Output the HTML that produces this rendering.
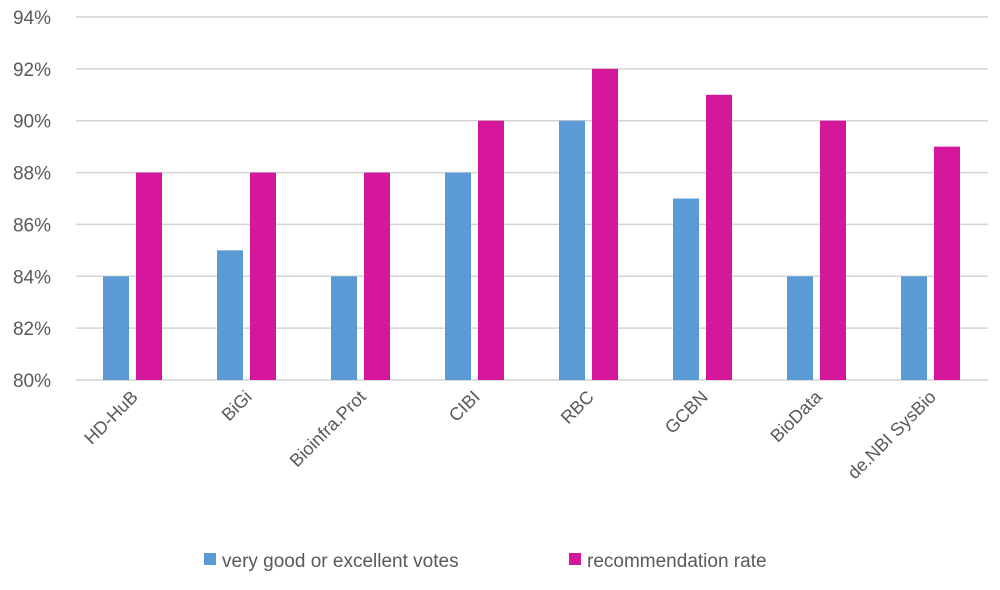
<!DOCTYPE html>
<html><head><meta charset="utf-8"><style>
body{margin:0;background:#fff}
text{font-family:"Liberation Sans",sans-serif;fill:#595959}
</style></head><body>
<svg id="c" width="1000" height="585"></svg>
<script>
const categories=["HD-HuB","BiGi","Bioinfra.Prot","CIBI","RBC","GCBN","BioData","de.NBI SysBio"];
const votes=[84,85,84,88,90,87,84,84];
const recommendation=[88,88,88,90,92,91,90,89];
const yTicks=[80,82,84,86,88,90,92,94];
const NS="http://www.w3.org/2000/svg";
const svg=document.getElementById('c');
const L=76,R=988,T=17,B=380,ymin=80,ymax=94;
const y=v=>B-(v-ymin)/(ymax-ymin)*(B-T);
const gw=(R-L)/categories.length;
const x=i=>L+i*gw;
function mk(t,a){const e=document.createElementNS(NS,t);for(const k in a)e.setAttribute(k,a[k]);svg.appendChild(e);return e;}
yTicks.forEach(v=>{
  const g=mk('line',{x1:L,x2:R,y1:y(v),y2:y(v),stroke:'#d4d4d4','stroke-width':1.5});
  
  
  const t=mk('text',{x:51,y:y(v)+7,'text-anchor':'end','font-size':19});
  t.textContent=v+'%';
  
  
});
categories.forEach((c,i)=>{
  const b=mk('rect',{x:x(i)+27,y:y(votes[i]),width:26,height:B-y(votes[i]),fill:'#5b9bd5'});
  
  
  const m=mk('rect',{x:x(i)+60,y:y(recommendation[i]),width:26,height:B-y(recommendation[i]),fill:'#d5179b'});
  
  
  const cx=x(i)+gw/2+6,cy=398;
  const t=mk('text',{x:cx,y:cy,'text-anchor':'end','font-size':18,transform:`rotate(-45 ${cx} ${cy})`});
  t.textContent=c;
  
  
});
const l1=mk('rect',{x:204,y:553,width:12,height:12,fill:'#5b9bd5'});


const lt1=mk('text',{x:222,y:567,'font-size':19});
lt1.textContent='very good or excellent votes';


const l2=mk('rect',{x:569,y:553,width:12,height:12,fill:'#d5179b'});


const lt2=mk('text',{x:587,y:567,'font-size':19});
lt2.textContent='recommendation rate';


</script>
</body></html>
